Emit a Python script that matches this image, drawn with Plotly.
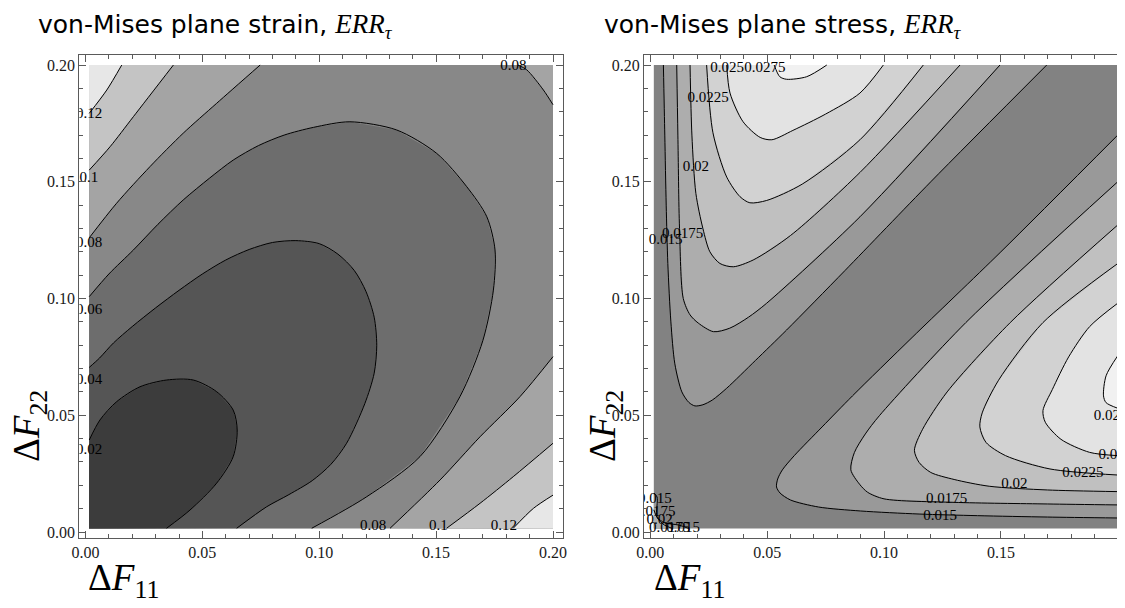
import plotly.graph_objects as go

# ---------------- data: left panel (plane strain) contour paths ----------------
LO, HI = 0.0015, 0.2

S002_x = [0.0016, 0.0062, 0.0133, 0.0233, 0.0347, 0.0461, 0.0561, 0.0632, 0.0649, 0.0632, 0.0561, 0.0447, 0.0347]
S002_y = [0.0394, 0.0480, 0.0558, 0.0622, 0.0651, 0.0651, 0.0601, 0.0522, 0.0437, 0.0323, 0.0209, 0.0094, 0.0016]

S004_x = [0.0016, 0.0060, 0.0120, 0.0200, 0.0300, 0.0400, 0.0500, 0.0600, 0.0700, 0.0800, 0.0900, 0.1000, 0.1080, 0.1150, 0.1200, 0.1235, 0.1246, 0.1235, 0.1195, 0.1117, 0.1050, 0.0970, 0.0870, 0.0775, 0.0647]
S004_y = [0.0705, 0.0745, 0.0810, 0.0880, 0.0960, 0.1035, 0.1105, 0.1165, 0.1210, 0.1240, 0.1248, 0.1235, 0.1190, 0.1120, 0.1030, 0.0920, 0.0800, 0.0680, 0.0550, 0.0380, 0.0290, 0.0220, 0.0160, 0.0108, 0.0016]

S006_x = [0.0016, 0.0100, 0.0205, 0.0310, 0.0418, 0.0530, 0.0632, 0.0740, 0.0850, 0.0975, 0.1131, 0.1331, 0.1502, 0.1631, 0.1717, 0.1752, 0.1745, 0.1700, 0.1602, 0.1431, 0.1203, 0.0968]
S006_y = [0.1008, 0.1105, 0.1208, 0.1318, 0.1422, 0.1515, 0.1593, 0.1655, 0.1700, 0.1733, 0.1757, 0.1722, 0.1622, 0.1479, 0.1350, 0.1208, 0.1036, 0.0820, 0.0580, 0.0323, 0.0151, 0.0016]

S008a_x = [0.0016, 0.0133, 0.0276, 0.0418, 0.0561, 0.0747]
S008a_y = [0.1260, 0.1408, 0.1565, 0.1708, 0.1836, 0.2000]
S008b_x = [0.1850, 0.1887, 0.1959, 0.2000]
S008b_y = [0.2000, 0.1980, 0.1893, 0.1830]
S008c_x = [0.2000, 0.1859, 0.1688, 0.1517, 0.1303]
S008c_y = [0.0751, 0.0580, 0.0408, 0.0223, 0.0016]

S010a_x = [0.0016, 0.0105, 0.0205, 0.0376]
S010a_y = [0.1550, 0.1650, 0.1779, 0.2000]
S010b_x = [0.2000, 0.1830, 0.1688, 0.1545]
S010b_y = [0.0380, 0.0237, 0.0123, 0.0016]

S012a_x = [0.0016, 0.0091, 0.0155]
S012a_y = [0.1793, 0.1893, 0.2000]
S012b_x = [0.2000, 0.1916, 0.1830]
S012b_y = [0.0158, 0.0101, 0.0016]

strain_colors = ["#3c3c3c", "#555555", "#6d6d6d", "#888888", "#a4a4a4", "#c4c4c4", "#e7e7e7"]

strain_lab_text = ["0.02", "0.04", "0.06", "0.08", "0.1", "0.12", "0.08", "0.08", "0.1", "0.12"]
strain_lab_x = [0.0015, 0.0015, 0.0015, 0.0015, 0.0015, 0.0015, 0.183, 0.123, 0.151, 0.179]
strain_lab_y = [0.035, 0.065, 0.095, 0.1237, 0.1515, 0.179, 0.1996, 0.0023, 0.0023, 0.0023]

# ---------------- data: right panel (plane stress) contour paths ----------------
TL0150_x = [0.0056, 0.0062, 0.0068, 0.0075, 0.0088, 0.0105, 0.0135, 0.0165, 0.0191, 0.0225, 0.0265, 0.0327, 0.0450, 0.0583, 0.0833, 0.1200, 0.1696]
TL0150_y = [0.2000, 0.1700, 0.1400, 0.1150, 0.0900, 0.0720, 0.0600, 0.0555, 0.0540, 0.0545, 0.0565, 0.0616, 0.0735, 0.0865, 0.1120, 0.1500, 0.2000]
TL0175_x = [0.0113, 0.0118, 0.0125, 0.0141, 0.0170, 0.0205, 0.0270, 0.0340, 0.0420, 0.0498, 0.0897, 0.1496]
TL0175_y = [0.2000, 0.1700, 0.1300, 0.1000, 0.0930, 0.0895, 0.0858, 0.0873, 0.0920, 0.0980, 0.1350, 0.2000]
TL0200_x = [0.0170, 0.0178, 0.0195, 0.0225, 0.0255, 0.0298, 0.0355, 0.0440, 0.0600, 0.0897, 0.1325]
TL0200_y = [0.2000, 0.1700, 0.1450, 0.1300, 0.1200, 0.1150, 0.1136, 0.1165, 0.1270, 0.1540, 0.2000]
TL0225_x = [0.0241, 0.0268, 0.0327, 0.0384, 0.0426, 0.0498, 0.0650, 0.0897, 0.1168]
TL0225_y = [0.2000, 0.1710, 0.1520, 0.1436, 0.1410, 0.1420, 0.1490, 0.1680, 0.2000]
TL0250_x = [0.0327, 0.0341, 0.0397, 0.0470, 0.0520, 0.0610, 0.0750, 0.0897, 0.0997]
TL0250_y = [0.2000, 0.1880, 0.1757, 0.1690, 0.1680, 0.1720, 0.1790, 0.1880, 0.2000]
TL0275_x = [0.0530, 0.0554, 0.0583, 0.0669, 0.0755]
TL0275_y = [0.2000, 0.1950, 0.1939, 0.1950, 0.2000]

BR0150_x = [0.2000, 0.1700, 0.1400, 0.1150, 0.0900, 0.0720, 0.0600, 0.0555, 0.0540, 0.0545, 0.0565, 0.0616, 0.0735, 0.0865, 0.1120, 0.1500, 0.2000]
BR0150_y = [0.0060, 0.0064, 0.0070, 0.0077, 0.0090, 0.0107, 0.0137, 0.0167, 0.0193, 0.0227, 0.0266, 0.0327, 0.0450, 0.0583, 0.0833, 0.1200, 0.1700]
BR0175_x = [0.2000, 0.1700, 0.1300, 0.1000, 0.0930, 0.0895, 0.0858, 0.0873, 0.0920, 0.0980, 0.1350, 0.2000]
BR0175_y = [0.0116, 0.0120, 0.0127, 0.0142, 0.0170, 0.0205, 0.0266, 0.0340, 0.0420, 0.0498, 0.0897, 0.1500]
BR0200_x = [0.2000, 0.1700, 0.1450, 0.1300, 0.1200, 0.1150, 0.1130, 0.1165, 0.1270, 0.1540, 0.2000]
BR0200_y = [0.0173, 0.0180, 0.0196, 0.0225, 0.0255, 0.0298, 0.0350, 0.0440, 0.0600, 0.0897, 0.1315]
BR0225_x = [0.2000, 0.1710, 0.1520, 0.1436, 0.1410, 0.1420, 0.1490, 0.1680, 0.2000]
BR0225_y = [0.0244, 0.0270, 0.0327, 0.0384, 0.0450, 0.0510, 0.0650, 0.0897, 0.1150]
BR0250_x = [0.2000, 0.1880, 0.1757, 0.1690, 0.1680, 0.1720, 0.1790, 0.1880, 0.2000]
BR0250_y = [0.0327, 0.0341, 0.0397, 0.0470, 0.0520, 0.0610, 0.0750, 0.0880, 0.0980]
BR0275_x = [0.2000, 0.1950, 0.1939, 0.1950, 0.2000]
BR0275_y = [0.0530, 0.0554, 0.0583, 0.0669, 0.0755]

OR0150_x = [0.0015, 0.0029, 0.0029, 0.0060, 0.0120, 0.0165]
OR0150_y = [0.0167, 0.0150, 0.0066, 0.0040, 0.0030, 0.0015]
OR0175_x = [0.0015, 0.0030, 0.0060, 0.0095]
OR0175_y = [0.0095, 0.0060, 0.0030, 0.0015]

stress_colors = ["#828282", "#999999", "#adadad", "#c0c0c0", "#d2d2d2", "#e3e3e3", "#f1f1f1"]

stress_lab_text = ["0.015", "0.0175", "0.02", "0.0225", "0.025", "0.0275",
                   "0.015", "0.0175", "0.02", "0.0225", "0.025", "0.0275",
                   "0.015", "0.0175", "0.02", "0.0175", "0.015"]
stress_lab_x = [0.0066, 0.0138, 0.0195, 0.0247, 0.0329, 0.0490,
                0.1240, 0.1268, 0.1558, 0.1851, 0.1990, 0.1985,
                0.0020, 0.0020, 0.0040, 0.0083, 0.0140]
stress_lab_y = [0.1248, 0.1276, 0.1562, 0.1857, 0.1986, 0.1986,
                0.0069, 0.0140, 0.0204, 0.0251, 0.0327, 0.0497,
                0.0140, 0.0083, 0.0050, 0.0016, 0.0016]

tick_vals = [0.0, 0.05, 0.10, 0.15, 0.20]
tick_text = ["0.00", "0.05", "0.10", "0.15", "0.20"]

# ---------------- figure ----------------
# the page body adds an 8px margin; lay out in page pixels and shift
OFF = 8
W, H = 1117, 600


def px(xp):
    return (xp - OFF) / W


def py(yp):
    return 1 - (yp - OFF) / H


fig = go.Figure()


def poly(xs, ys, color, xa, ya):
    fig.add_trace(go.Scatter(x=xs, y=ys, mode="lines", fill="toself", fillcolor=color,
                             line=dict(width=0, color=color), hoverinfo="skip",
                             showlegend=False, xaxis=xa, yaxis=ya))


def cline(xs, ys, xa, ya):
    fig.add_trace(go.Scatter(x=xs, y=ys, mode="lines",
                             line=dict(width=1, color="black", shape="spline", smoothing=0.8),
                             hoverinfo="skip", showlegend=False, xaxis=xa, yaxis=ya))


# left panel fills
poly([LO, HI, HI, LO], [LO, LO, HI, HI], strain_colors[3], "x", "y")
poly(S008a_x + [LO], S008a_y + [HI], strain_colors[4], "x", "y")
poly(S008b_x + [HI], S008b_y + [HI], strain_colors[4], "x", "y")
poly(S008c_x + [HI], S008c_y + [LO], strain_colors[4], "x", "y")
poly(S010a_x + [LO], S010a_y + [HI], strain_colors[5], "x", "y")
poly(S010b_x + [HI], S010b_y + [LO], strain_colors[5], "x", "y")
poly(S012a_x + [LO], S012a_y + [HI], strain_colors[6], "x", "y")
poly(S012b_x + [HI], S012b_y + [LO], strain_colors[6], "x", "y")
poly(S006_x + [LO], S006_y + [LO], strain_colors[2], "x", "y")
poly(S004_x + [LO], S004_y + [LO], strain_colors[1], "x", "y")
poly(S002_x + [LO], S002_y + [LO], strain_colors[0], "x", "y")
for xs, ys in [(S002_x, S002_y), (S004_x, S004_y), (S006_x, S006_y), (S008a_x, S008a_y),
               (S008b_x, S008b_y), (S008c_x, S008c_y), (S010a_x, S010a_y), (S010b_x, S010b_y),
               (S012a_x, S012a_y), (S012b_x, S012b_y)]:
    cline(xs, ys, "x", "y")

# right panel fills
poly([LO, HI, HI, LO], [LO, LO, HI, HI], stress_colors[0], "x2", "y2")
TL = [(TL0150_x, TL0150_y), (TL0175_x, TL0175_y), (TL0200_x, TL0200_y),
      (TL0225_x, TL0225_y), (TL0250_x, TL0250_y), (TL0275_x, TL0275_y)]
BR = [(BR0150_x, BR0150_y), (BR0175_x, BR0175_y), (BR0200_x, BR0200_y),
      (BR0225_x, BR0225_y), (BR0250_x, BR0250_y), (BR0275_x, BR0275_y)]
for i, (xs, ys) in enumerate(TL):
    poly(xs, ys, stress_colors[i + 1], "x2", "y2")
for i, (xs, ys) in enumerate(BR):
    poly(xs, ys, stress_colors[i + 1], "x2", "y2")
poly(OR0150_x + [LO], OR0150_y + [LO], stress_colors[1], "x2", "y2")
poly(OR0175_x + [LO], OR0175_y + [LO], stress_colors[2], "x2", "y2")
for xs, ys in TL + BR + [(OR0150_x, OR0150_y), (OR0175_x, OR0175_y)]:
    cline(xs, ys, "x2", "y2")

# contour labels
lab_font = dict(family="Liberation Serif", size=15, color="black")
fig.add_trace(go.Scatter(x=strain_lab_x, y=strain_lab_y, text=strain_lab_text, mode="text",
                         textfont=lab_font, textposition="middle center", hoverinfo="skip",
                         showlegend=False, xaxis="x", yaxis="y"))
fig.add_trace(go.Scatter(x=stress_lab_x, y=stress_lab_y, text=stress_lab_text, mode="text",
                         textfont=lab_font, textposition="middle center", hoverinfo="skip",
                         showlegend=False, xaxis="x2", yaxis="y2"))

ydom = [py(538), py(55)]
axis_common = dict(
    showline=True, linecolor="#5a5a5a", linewidth=1, mirror="ticks",
    ticks="inside", ticklen=7, tickwidth=1, tickcolor="#5a5a5a",
    tickvals=tick_vals, ticktext=tick_text,
    tickfont=dict(family="Liberation Serif", size=16, color="#1a1a1a"),
    minor=dict(ticks="inside", ticklen=4, tickcolor="#5a5a5a", dtick=0.01, tick0=0),
    showgrid=False, zeroline=False, fixedrange=True, automargin=False,
)
fig.update_layout(
    width=W, height=H, margin=dict(l=0, r=0, t=0, b=0),
    paper_bgcolor="white", plot_bgcolor="white", showlegend=False,
    xaxis=dict(domain=[px(79.3), px(562.7)], range=[-0.00265, 0.20415], anchor="y", **axis_common),
    yaxis=dict(domain=ydom, range=[-0.00257, 0.2043], anchor="x", **axis_common),
    xaxis2=dict(domain=[px(644), 1.0], range=[-0.0027, 0.2031], anchor="y2", **axis_common),
    yaxis2=dict(domain=ydom, range=[-0.00257, 0.2043], anchor="x2", **axis_common),
)

math = "<span style=\"font-family:'Liberation Serif';font-size:27px\"><i>ERR</i><sub><i>τ</i></sub></span>"
title_font = dict(family="DejaVu Sans", size=25, color="black")
lab_big = dict(family="Liberation Serif", size=37, color="black")
ann = [
    dict(text="von-Mises plane strain, " + math, x=px(36), y=py(26), xanchor="left", yanchor="middle",
         font=title_font),
    dict(text="von-Mises plane stress, " + math, x=px(602), y=py(26), xanchor="left", yanchor="middle",
         font=title_font),
    dict(text="Δ<i>F</i><sub>11</sub>", x=px(123), y=py(580), xanchor="center", yanchor="middle",
         font=lab_big),
    dict(text="Δ<i>F</i><sub>11</sub>", x=px(689), y=py(580), xanchor="center", yanchor="middle",
         font=lab_big),
    dict(text="Δ<i>F</i><sub>22</sub>", x=px(29), y=py(426), xanchor="center", yanchor="middle",
         textangle=-90, font=lab_big),
    dict(text="Δ<i>F</i><sub>22</sub>", x=px(605), y=py(426), xanchor="center", yanchor="middle",
         textangle=-90, font=lab_big),
]
for a in ann:
    a.update(xref="paper", yref="paper", showarrow=False)
fig.update_layout(annotations=ann)

fig.write_html("out.html")
